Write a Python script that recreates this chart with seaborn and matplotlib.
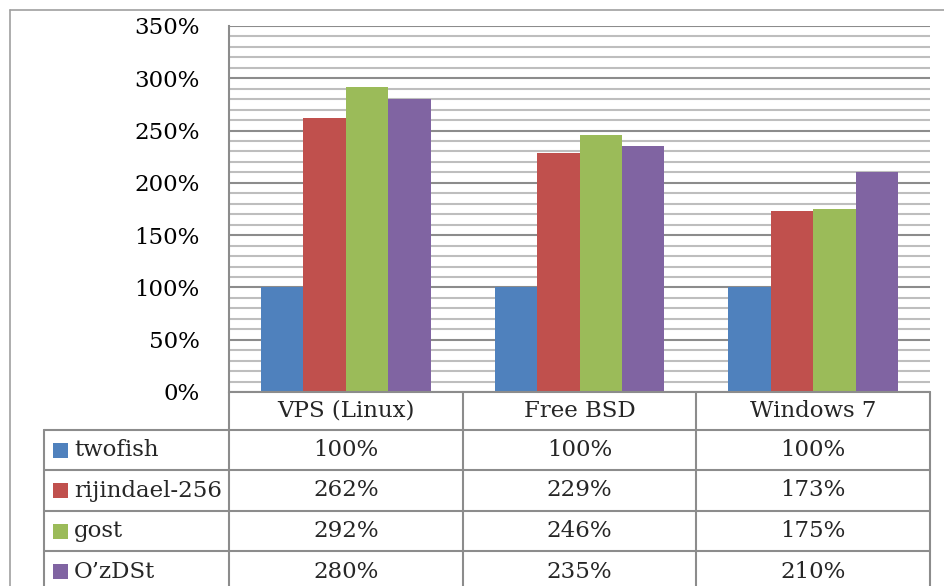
import matplotlib
matplotlib.use("Agg")
import matplotlib.pyplot as plt
import matplotlib.transforms as mtransforms
from matplotlib.lines import Line2D
from matplotlib.patches import Rectangle
from matplotlib.ticker import MultipleLocator
import seaborn as sns
import pandas as pd

platforms = ["VPS (Linux)", "Free BSD", "Windows 7"]
algorithms = ["twofish", "rijindael-256", "gost", "O\u2019zDSt"]
twofish = [100, 100, 100]
rijindael = [262, 229, 173]
gost = [292, 246, 175]
ozdst = [280, 235, 210]
y_ticks = [0, 50, 100, 150, 200, 250, 300, 350]

colors = ["#4F81BD", "#C0504D", "#9BBB59", "#8064A2"]
line_gray = "#8C8C8C"
minor_gray = "#BEBEBE"

series = [twofish, rijindael, gost, ozdst]
rows = []
for algo, vals in zip(algorithms, series):
    for plat, v in zip(platforms, vals):
        rows.append({"Platform": plat, "Algorithm": algo, "Value": v})
df = pd.DataFrame(rows)

sns.set_theme(style="white")
plt.rcParams["font.family"] = ["DejaVu Serif"]
FS = 16.5

W, H = 944, 586
fig = plt.figure(figsize=(W / 100, H / 100), dpi=100)
fig.patch.set_facecolor("white")

# plot area in pixels
pl, pr, pt, pb = 229, 930, 26, 392
ax = fig.add_axes([pl / W, 1 - pb / H, (pr - pl) / W, (pb - pt) / H])

sns.barplot(
    data=df, x="Platform", y="Value", hue="Algorithm",
    palette=colors, width=0.727, saturation=1, legend=False,
    edgecolor="none", ax=ax, zorder=3
)

ax.set_ylim(0, 350)
ax.set_xlim(-0.5, len(platforms) - 0.5)
ax.set_yticks(y_ticks)
ax.set_yticklabels([f"{v}%" for v in y_ticks], fontsize=FS, color="black")
ax.yaxis.set_minor_locator(MultipleLocator(10))
ax.grid(axis="y", which="minor", color=minor_gray, lw=1.5)
ax.grid(axis="y", which="major", color=line_gray, lw=1.5)
ax.set_axisbelow(True)
ax.tick_params(axis="y", which="both", length=0, pad=21)
ax.set_xticks([])
ax.set_xlabel("")
ax.set_ylabel("")
for side in ["top", "right", "bottom"]:
    ax.spines[side].set_visible(False)
ax.spines["left"].set_color(line_gray)
ax.spines["left"].set_linewidth(1.5)

# data table below the plot: x in data coords, y in figure fraction
blend = mtransforms.blended_transform_factory(ax.transData, fig.transFigure)
pix = fig.transFigure


def fy(y):
    return 1 - y / H


def fx(x):
    return x / W


row_edges = [392, 430, 470, 511, 551, 592]
x_left = -0.5
x_right = len(platforms) - 0.5
legend_left = 44

# horizontal lines
fig.add_artist(Line2D([x_left, x_right], [fy(row_edges[0])] * 2,
                      transform=blend, color=line_gray, lw=1.5))
for y in row_edges[1:-1]:
    fig.add_artist(Line2D([fx(legend_left), fx(pr)], [fy(y)] * 2,
                          transform=pix, color=line_gray, lw=1.5))
# vertical lines
for i in range(len(platforms) + 1):
    fig.add_artist(Line2D([i - 0.5] * 2, [fy(row_edges[0]), 0],
                          transform=blend, color=line_gray, lw=1.5, zorder=3))
fig.add_artist(Line2D([fx(legend_left)] * 2, [fy(row_edges[1]), 0],
                      transform=pix, color=line_gray, lw=1.5))

# header
for i, plat in enumerate(platforms):
    fig.text(i, fy((row_edges[0] + row_edges[1]) / 2), plat, transform=blend,
             ha="center", va="center", fontsize=FS)

# rows
for r, (algo, vals) in enumerate(zip(algorithms, series)):
    yc = fy((row_edges[r + 1] + row_edges[r + 2]) / 2)
    fig.add_artist(Rectangle((fx(53), yc - 7.5 / H), 15 / W, 15 / H,
                             transform=pix, color=colors[r], lw=0))
    fig.text(fx(74), yc, algo, transform=pix, ha="left", va="center",
             fontsize=FS)
    for i, v in enumerate(vals):
        fig.text(i, yc, f"{v}%", transform=blend, ha="center", va="center",
                 fontsize=FS)

# outer chart border
fig.add_artist(Line2D([fx(10), 1], [fy(10)] * 2, transform=pix,
                      color="#A0A0A0", lw=1.2))
fig.add_artist(Line2D([fx(10)] * 2, [fy(10), 0], transform=pix,
                      color="#A0A0A0", lw=1.2))

fig.savefig("out.png", dpi=100, facecolor="white")
